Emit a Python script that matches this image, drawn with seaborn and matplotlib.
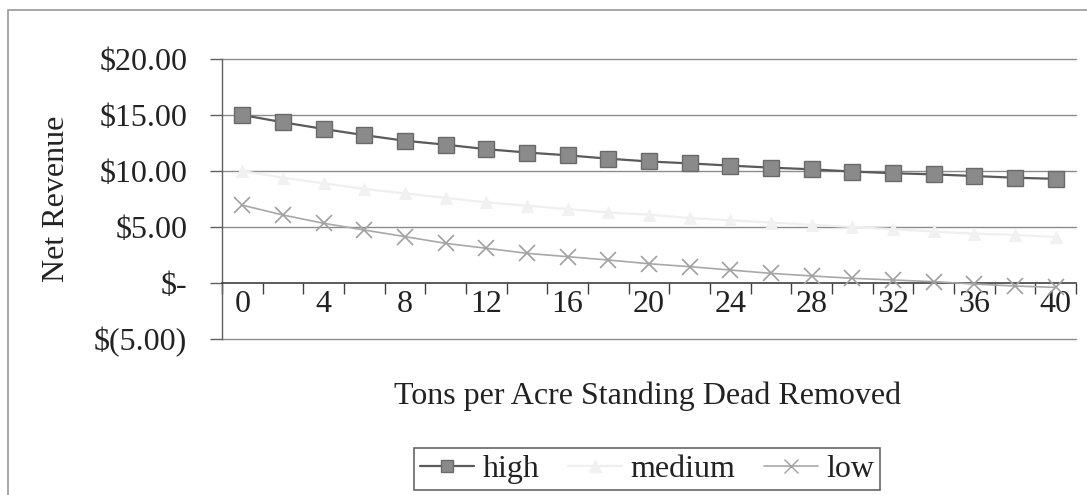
import matplotlib
matplotlib.use("Agg")
import matplotlib.pyplot as plt
import seaborn as sns
import pandas as pd
from matplotlib.patches import Rectangle
from matplotlib.lines import Line2D
from matplotlib.ticker import FixedLocator, FuncFormatter

tons = [0, 2, 4, 6, 8, 10, 12, 14, 16, 18, 20, 22, 24, 26, 28, 30, 32, 34, 36, 38, 40]
high = [15.0, 14.35, 13.75, 13.2, 12.7, 12.35, 11.95, 11.65, 11.4, 11.1, 10.85,
        10.68, 10.48, 10.3, 10.15, 9.95, 9.8, 9.7, 9.55, 9.4, 9.3]
medium = [10.0, 9.4, 8.9, 8.4, 8.0, 7.6, 7.2, 6.9, 6.6, 6.3, 6.1,
          5.8, 5.6, 5.4, 5.2, 5.0, 4.8, 4.6, 4.4, 4.3, 4.1]
low = [6.95, 6.07, 5.33, 4.73, 4.14, 3.54, 3.1, 2.65, 2.35, 2.05, 1.72,
       1.46, 1.16, 0.86, 0.63, 0.42, 0.27, 0.12, -0.09, -0.27, -0.39]
series_names = ["high", "medium", "low"]
y_ticks = [-5, 0, 5, 10, 15, 20]
x_label_ticks = [0, 4, 8, 12, 16, 20, 24, 28, 32, 36, 40]

df = pd.DataFrame({
    "tons": tons * 3,
    "value": high + medium + low,
    "series": ["high"] * len(tons) + ["medium"] * len(tons) + ["low"] * len(tons),
})

sns.set_theme(style="white")
plt.rcParams["font.family"] = ["Liberation Serif", "DejaVu Serif"]

FS = 23
TXT = "#222222"

fig = plt.figure(figsize=(10.87, 4.95), dpi=100)
ax = fig.add_axes([222 / 1087, 1 - 339 / 495, 854 / 1087, 280 / 495])

# outer chart border (only left/top visible)
fig.patches.append(Rectangle((8 / 1087, -0.2), 1.2, 1.2 - 10 / 495,
                             transform=fig.transFigure, fill=False,
                             edgecolor="#9a9a9a", linewidth=1.2, zorder=0))

palette = {"high": "#5a5a5a", "medium": "#efefef", "low": "#a8a8a8"}
markers = {"high": "s", "medium": "^", "low": "X"}
sns.lineplot(data=df, x="tons", y="value", hue="series", style="series",
             hue_order=series_names, style_order=series_names,
             palette=palette, markers=markers, dashes=False, ax=ax,
             linewidth=1.6, markersize=12, legend=False, zorder=3)

lines = ax.get_lines()
lines[0].set_markerfacecolor("#8a8a8a")
lines[0].set_markeredgecolor("#6a6a6a")
lines[0].set_markeredgewidth(1.0)
lines[1].set_markerfacecolor("#f1f1f1")
lines[1].set_markeredgecolor("#f1f1f1")
lines[1].set_markersize(8)
lines[2].set_marker("x")
lines[2].set_markeredgecolor("#a0a0a0")
lines[2].set_markeredgewidth(1.2)
lines[2].set_markersize(12)
lines[2].set_linewidth(1.2)

ax.set_xlim(-1, 41)
ax.set_ylim(-5, 20)

# gridlines
for yv in [5, 10, 15, 20, -5]:
    ax.axhline(yv, color="#8c8c8c", linewidth=1.0, zorder=1, clip_on=False)

ax.spines["top"].set_visible(False)
ax.spines["right"].set_visible(False)
ax.spines["left"].set_color("#606060")
ax.spines["left"].set_linewidth(1.0)
ax.spines["bottom"].set_position(("data", 0))
ax.spines["bottom"].set_color("#404040")
ax.spines["bottom"].set_linewidth(1.2)

ax.yaxis.set_major_locator(FixedLocator(y_ticks))
def money(v, pos):
    if abs(v) < 1e-9:
        return "$-"
    if v < 0:
        return "$(%.2f)" % abs(v)
    return "$%.2f" % v
ax.yaxis.set_major_formatter(FuncFormatter(money))
ax.tick_params(axis="y", which="major", direction="out", length=9, width=1,
               color="#606060", labelsize=FS, pad=16, left=True, labelcolor=TXT)

ax.xaxis.set_major_locator(FixedLocator(x_label_ticks))
ax.set_xticklabels([str(v) for v in x_label_ticks])
ax.xaxis.set_minor_locator(FixedLocator(list(range(-1, 42, 2))))
ax.tick_params(axis="x", which="major", length=0, labelsize=FS, pad=5,
               labelcolor=TXT)
ax.tick_params(axis="x", which="minor", direction="out", length=8, width=1,
               color="#404040", bottom=True)

ax.set_xlabel("")
ax.set_ylabel("")
fig.text(648 / 1087, 1 - 396 / 495, "Tons per Acre Standing Dead Removed",
         ha="center", va="center", fontsize=FS, color=TXT)
fig.text(57 / 1087, 1 - 199 / 495, "Net Revenue", rotation=90,
         ha="center", va="center", fontsize=FS, color=TXT)

# legend
handles = [
    Line2D([], [], color="#5a5a5a", marker="s", markerfacecolor="#8a8a8a",
           markeredgecolor="#6a6a6a", markersize=9, linewidth=1.6),
    Line2D([], [], color="#efefef", marker="^", markerfacecolor="#f1f1f1",
           markeredgecolor="#f1f1f1", markersize=8, linewidth=1.6),
    Line2D([], [], color="#a8a8a8", marker="x", markeredgecolor="#a0a0a0",
           markersize=10, linewidth=1.2),
]
leg = fig.legend(handles, series_names, loc="center",
                 bbox_to_anchor=(647 / 1087, 1 - 469 / 495), ncol=3,
                 frameon=True, fancybox=False, fontsize=FS,
                 handlelength=1.7, handletextpad=0.25, columnspacing=0.9,
                 borderpad=0.2, borderaxespad=0, edgecolor="#404040")
leg.get_frame().set_linewidth(1.2)
for t in leg.get_texts():
    t.set_color(TXT)

fig.savefig("out.png", dpi=100)
